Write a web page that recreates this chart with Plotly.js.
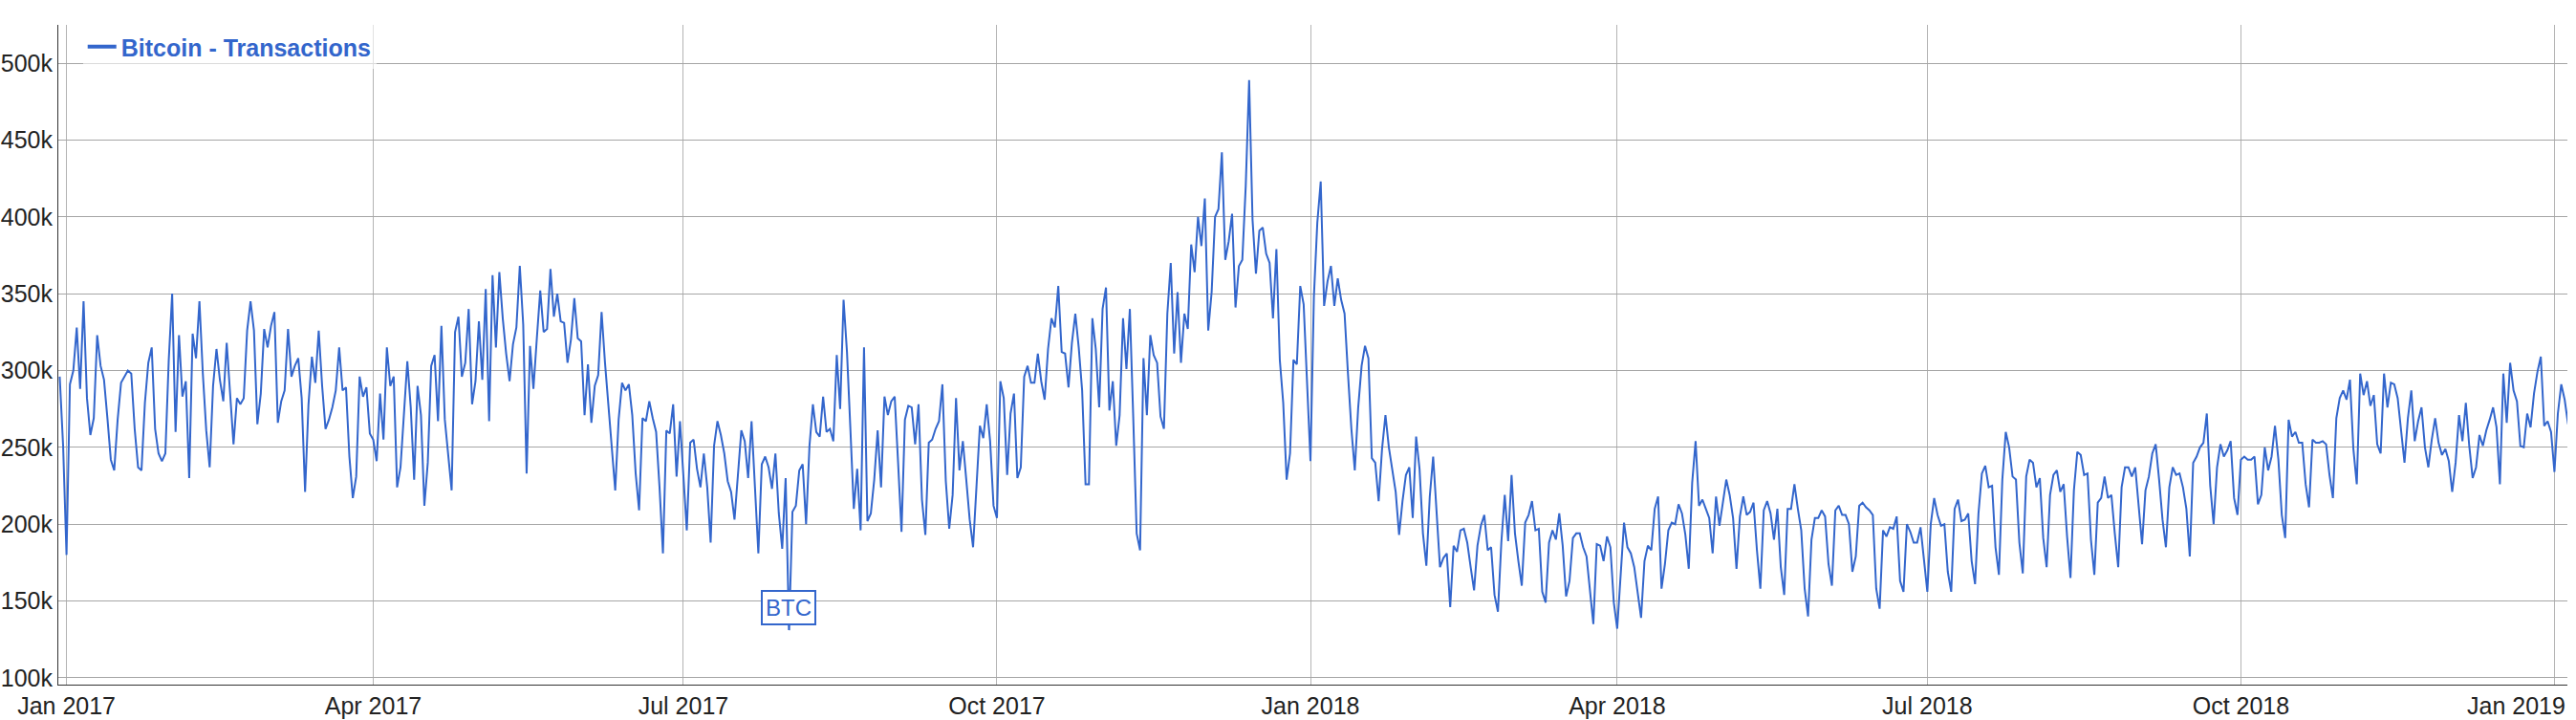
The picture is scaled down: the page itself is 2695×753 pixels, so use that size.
<!DOCTYPE html>
<html><head><meta charset="utf-8">
<script src="https://cdn.plot.ly/plotly-3.0.1.min.js"></script>
<style>html,body{margin:0;padding:0;background:#fff;overflow:hidden}#chart{width:2695px;height:753px}</style>
</head><body><div id="chart"></div>
<script>
const seriesName = 'Bitcoin - Transactions';
// Daily transaction counts, in thousands
const tx_2016_12 = [296, 251]; // starts Dec 30
const tx_2017_01 = [180,291,300,328,288,345,282,258,269,323, 303,294,269,242,235,268,292,296,300,298, 262,237,235,279,305,315,262,246,241,246, 307];
const tx_2017_02 = [350,260,323,283,293,230,324,308,345,298, 261,237,290,314,294,280,318,283,252,282, 278,282,326,345,326,265,285,327];
const tx_2017_03 = [315,329,338,266,280,287,327,296,303,308, 282,221,278,309,292,326,290,262,268,276, 287,315,287,289,244,217,231,296,283,289, 259];
const tx_2017_04 = [255,241,285,255,315,290,296,224,237,273, 306,276,229,290,271,212,240,303,310,267, 329,268,244,222,325,335,296,305,340,278];
const tx_2017_05 = [293,332,294,353,267,362,315,364,334,311, 293,317,328,368,330,233,316,288,321,352, 325,327,366,335,350,332,331,305,320,347, 321];
const tx_2017_06 = [319,271,304,266,290,297,338,305,276,251, 222,268,292,287,291,271,233,209,269,267, 280,269,260,224,181,261,259,278,231,267];
const tx_2017_07 = [229,196,253,255,236,224,246,224,188,251, 267,258,246,228,221,203,232,261,254,230, 267,222,181,239,244,237,223,246,207,184, 230];
const tx_2017_08 = [131,208,212,235,239,200,251,278,260,257, 283,260,262,254,310,275,346,312,262,210, 236,196,315,202,207,229,261,224,283,271, 280];
const tx_2017_09 = [283,240,195,268,277,276,252,278,216,193, 253,255,262,267,291,228,197,219,282,235, 254,229,203,185,224,264,256,278,254,212];
const tx_2017_10 = [204,293,282,232,272,285,230,237,296,303, 292,292,311,293,281,314,334,328,355,312, 311,289,318,337,315,287,226,226,334,314, 276];
const tx_2017_11 = [340,354,274,293,251,271,334,301,340,269, 194,183,308,271,323,310,305,270,262,337, 370,311,351,305,337,327,382,364,400,381];
const tx_2017_12 = [412,326,351,400,405,442,372,384,402,341, 368,372,420,489,398,363,391,393,376,370, 334,379,307,279,229,246,307,304,355,343, 287];
const tx_2018_01 = [241,348,396,423,342,358,368,342,360,346, 337,298,262,235,276,303,316,308,243,240, 215,249,271,250,236,221,193,215,232,237, 204];
const tx_2018_02 = [257,236,194,173,218,244,210,172,178,181, 146,186,182,196,197,188,172,157,186,199, 206,183,185,154,143,188,219,189];
const tx_2018_03 = [232,194,176,160,201,206,215,196,197,156, 149,188,196,190,207,186,153,163,191,194, 194,185,179,157,135,187,186,176,192,185, 149];
const tx_2018_04 = [132,168,201,185,181,172,154,139,176,186, 183,210,218,158,174,196,201,200,213,207, 193,171,227,254,212,216,210,204,181,218];
const tx_2018_05 = [199,214,229,219,204,171,205,218,206,208, 214,183,158,209,215,207,190,210,172,154, 210,210,226,210,196,158,140,190,204,204, 209];
const tx_2018_06 = [205,174,160,209,212,206,206,200,169,179, 212,214,211,209,206,158,145,196,192,198, 197,205,163,156,200,195,188,188,198,179];
const tx_2018_07 = [156,200,217,206,199,200,169,156,210,216, 202,203,207,176,161,207,233,238,224,225, 185,167,229,260,250,231,229,188,168,231, 242];
const tx_2018_08 = [240,224,230,191,172,219,232,235,221,226, 192,165,222,247,245,232,233,190,167,214, 217,231,217,219,194,172,224,237,237,231, 237];
const tx_2018_09 = [212,187,222,231,246,252,229,203,185,224, 237,232,233,224,210,179,240,244,250,253, 272,225,200,237,252,244,248,254,217,206];
const tx_2018_10 = [242,244,242,242,244,213,219,250,235,244, 264,242,206,191,268,257,260,253,253,226, 211,255,253,253,254,252,232,217,269,282, 287];
const tx_2018_11 = [281,294,249,226,298,284,293,277,284,252, 246,298,276,292,291,282,262,240,269,287, 254,267,276,250,237,255,269,253,245,249];
const tx_2018_12 = [241,221,240,271,254,279,251,230,237,258, 251,261,268,276,263,226,298,266,305,287, 280,251,250,272,263,285,299,309,264,267, 260];
const tx_2019_01 = [234,272,291,281,265];

const monthStarts = ['2016-12-30','2017-01-01','2017-02-01','2017-03-01','2017-04-01','2017-05-01','2017-06-01','2017-07-01','2017-08-01','2017-09-01','2017-10-01','2017-11-01','2017-12-01','2018-01-01','2018-02-01','2018-03-01','2018-04-01','2018-05-01','2018-06-01','2018-07-01','2018-08-01','2018-09-01','2018-10-01','2018-11-01','2018-12-01','2019-01-01'];
const monthValues = [tx_2016_12,tx_2017_01,tx_2017_02,tx_2017_03,tx_2017_04,tx_2017_05,tx_2017_06,tx_2017_07,tx_2017_08,tx_2017_09,tx_2017_10,tx_2017_11,tx_2017_12,tx_2018_01,tx_2018_02,tx_2018_03,tx_2018_04,tx_2018_05,tx_2018_06,tx_2018_07,tx_2018_08,tx_2018_09,tx_2018_10,tx_2018_11,tx_2018_12,tx_2019_01];

const xTickDates = ['2017-01-01','2017-04-01','2017-07-01','2017-10-01','2018-01-01','2018-04-01','2018-07-01','2018-10-01','2019-01-01'];
const xTickLabels = ['Jan 2017','Apr 2017','Jul 2017','Oct 2017','Jan 2018','Apr 2018','Jul 2018','Oct 2018','Jan 2019'];
const yTickVals = [100000,150000,200000,250000,300000,350000,400000,450000,500000];
const yTickLabels = ['100k','150k','200k','250k','300k','350k','400k','450k','500k'];
const annotationDate = '2017-08-01';
const annotationText = 'BTC';

const xs = [], ys = [];
monthStarts.forEach((s, i) => {
  const t0 = Date.parse(s + 'T00:00:00Z');
  monthValues[i].forEach((v, j) => {
    xs.push(new Date(t0 + j * 86400000).toISOString().slice(0, 10));
    ys.push(v * 1000);
  });
});

const FONT = 'Arial, "Liberation Sans", sans-serif';
const BLUE = '#3366cc';
const lastIdx = xTickLabels.length - 1;
const shownTickText = xTickLabels.map((t, i) => i === lastIdx ? '' : t);

const trace = {
  x: xs, y: ys, type: 'scatter', mode: 'lines', name: seriesName,
  line: {color: BLUE, width: 2}, hoverinfo: 'skip', showlegend: false
};
// legend entry for the same series (thicker key line, as in the original)
const legendKey = {
  x: [null], y: [null], type: 'scatter', mode: 'lines', name: seriesName,
  line: {color: BLUE, width: 4}, hoverinfo: 'skip', showlegend: true
};

const layout = {
  width: 2695, height: 753,
  margin: {l: 61, r: 9, t: 26, b: 37, pad: 0},
  paper_bgcolor: '#fff', plot_bgcolor: '#fff',
  font: {family: FONT, size: 25, color: '#222'},
  showlegend: true,
  legend: {
    x: 0.0098, xanchor: 'left', y: 1, yanchor: 'top',
    bgcolor: 'rgba(255,255,255,0.6)', borderwidth: 0,
    font: {family: FONT, size: 25, color: BLUE, weight: 'bold'}
  },
  xaxis: {
    type: 'date', range: ['2016-12-29 14:10', '2019-01-04 19:12'],
    tickmode: 'array', tickvals: xTickDates, ticktext: shownTickText,
    showgrid: true, gridcolor: '#b4b4b4', gridwidth: 1,
    showline: true, linecolor: '#333', linewidth: 1,
    zeroline: false, ticks: '', automargin: false,
    tickfont: {family: FONT, size: 25, color: '#222'}
  },
  yaxis: {
    range: [95600, 524900],
    tickmode: 'array', tickvals: yTickVals, ticktext: yTickLabels,
    showgrid: true, gridcolor: '#a6a6a6', gridwidth: 1,
    showline: true, linecolor: '#333', linewidth: 1,
    zeroline: false, ticks: '', automargin: false,
    tickfont: {family: FONT, size: 25, color: '#222'}
  },
  annotations: [
    {
      x: annotationDate, y: ys[xs.indexOf(annotationDate)], xref: 'x', yref: 'y',
      text: annotationText, showarrow: true, arrowhead: 0, arrowwidth: 1.5, arrowcolor: BLUE,
      ax: 0, ay: -24, standoff: 0,
      bgcolor: '#fff', bordercolor: BLUE, borderwidth: 2, borderpad: 3,
      font: {family: FONT, size: 24, color: BLUE}
    },
    {
      x: 1, xref: 'paper', xanchor: 'right', y: 0, yref: 'paper', yanchor: 'top', yshift: -6,
      text: xTickLabels[lastIdx], showarrow: false,
      font: {family: FONT, size: 25, color: '#222'}
    }
  ]
};

Plotly.newPlot('chart', [trace, legendKey], layout, {displayModeBar: false, staticPlot: true});
</script>
</body></html>
